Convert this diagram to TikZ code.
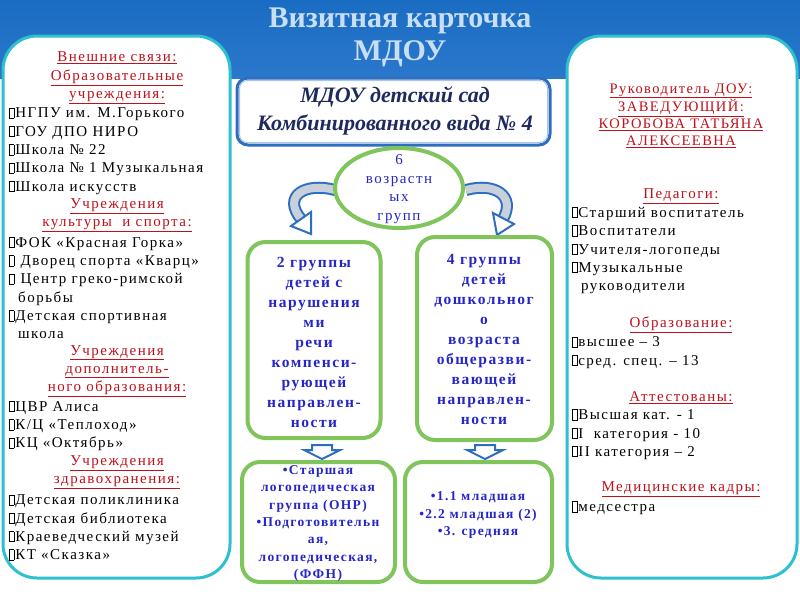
\documentclass[tikz,border=0pt]{standalone}
\usepackage{fontspec}
\setmainfont{Liberation Serif}
\newfontfamily\pf[LetterSpace=10]{Liberation Serif}
\newfontfamily\pfb[LetterSpace=10]{Liberation Serif}
\usetikzlibrary{shapes.geometric}
\definecolor{bgblue}{HTML}{1A6CC2}
\definecolor{bgblue2}{HTML}{2A78CC}
\definecolor{titlec}{HTML}{C8DEF2}
\definecolor{cyanb}{HTML}{2EC0CF}
\definecolor{redh}{HTML}{C0101A}
\definecolor{boxblue}{HTML}{2626C8}
\definecolor{greenb}{HTML}{80C45C}
\definecolor{navy}{HTML}{1E2A5E}
\definecolor{arrowblue}{HTML}{2E6EC0}
\definecolor{bandfill}{HTML}{C8D0DC}
\newcommand\bx{\kern0.5pt{\setlength\fboxsep{0pt}\setlength\fboxrule{0.8pt}\fbox{\rule{0pt}{9.5pt}\rule{4.2pt}{0pt}}}\kern0.8pt}
\tikzset{
  panel/.style={draw=cyanb, line width=3pt, fill=white, rounded corners=34pt, inner sep=0},
  lhead/.style={text=redh, align=center, font=\pf\fontsize{15}{18.3}\selectfont, inner sep=0},
  litem/.style={anchor=west, align=left, font=\pf\fontsize{15}{18.3}\selectfont, inner sep=0},
  rhead/.style={text=redh, align=center, font=\pf\fontsize{14.5}{17}\selectfont, inner sep=0},
  ritem/.style={anchor=west, align=left, font=\pf\fontsize{15}{18.4}\selectfont, inner sep=0},
  gbox/.style={draw=greenb, line width=4pt, fill=white, rounded corners=18pt, inner sep=0},
  gtext/.style={text=boxblue, align=center, font=\pfb\bfseries\fontsize{15.5}{20}\selectfont, inner sep=0},
  btext/.style={text=boxblue, align=center, font=\pfb\bfseries\fontsize{13.5}{17.3}\selectfont, inner sep=0},
  band/.style={line width=12pt, draw=arrowblue},
  bandin/.style={line width=8pt, draw=bandfill},
  ahead/.style={draw=arrowblue, line width=2pt, fill=white, line join=miter},
}
\begin{document}
\begin{tikzpicture}[x=1pt,y=-1pt]
\useasboundingbox (0,0) rectangle (800,600);
\fill[white] (0,0) rectangle (800,600);
\fill[top color=bgblue, bottom color=bgblue2] (0,0) rectangle (800,78);
% title
\node[font=\bfseries\fontsize{30}{33}\selectfont, text=titlec, align=center, inner sep=0] (title) at (400,37) {Визитная карточка\\МДОУ};
% left panel
\node[panel, minimum width=227pt, minimum height=542pt] (lp) at (116.5,307) {};
\node[lhead] (l1) at (117,78) {\underline{Внешние связи:}\\\underline{Образовательные}\\\underline{учреждения:}};
\node[litem] (l2) at (8,151) {\bx НГПУ им. М.Горького\\\bx ГОУ ДПО НИРО\\\bx Школа № 22\\\bx Школа № 1 Музыкальная\\\bx Школа искусств};
\node[lhead] (l3) at (117,215) {\underline{Учреждения}\\\underline{культуры\ \ и спорта:}};
\node[litem] (l4) at (8,288) {\bx ФОК «Красная Горка»\\\bx\ Дворец спорта «Кварц»\\\bx\ Центр греко-римской\\\hspace*{10pt}борьбы\\\bx Детская спортивная\\\hspace*{10pt}школа};
\node[lhead] (l5) at (117,371) {\underline{Учреждения}\\\underline{дополнитель-}\\\underline{ного образования:}};
\node[litem] (l6) at (8,426) {\bx ЦВР Алиса\\\bx К/Ц «Теплоход»\\\bx КЦ «Октябрь»};
\node[lhead] (l7) at (117,472) {\underline{Учреждения}\\\underline{здравохранения:}};
\node[litem] (l8) at (8,527.5) {\bx Детская поликлиника\\\bx Детская библиотека\\\bx Краеведческий музей\\\bx КТ «Сказка»};
% right panel
\node[panel, minimum width=230pt, minimum height=542pt] (rp) at (682,307) {};
\node[rhead] (r1) at (681,115.5) {\underline{Руководитель ДОУ:}\\\underline{ЗАВЕДУЮЩИЙ:}\\\underline{КОРОБОВА ТАТЬЯНА}\\\underline{АЛЕКСЕЕВНА}};
\node[lhead] (r2) at (681,196) {\underline{Педагоги:}};
\node[ritem] (r3) at (571,250.5) {\bx Старший воспитатель\\\bx Воспитатели\\\bx Учителя-логопеды\\\bx Музыкальные\\\hspace*{10pt}руководители};
\node[lhead] (r4) at (681,325) {\underline{Образование:}};
\node[ritem] (r5) at (571,352.5) {\bx высшее – 3\\\bx сред. спец. – 13};
\node[lhead] (r6) at (681,398) {\underline{Аттестованы:}};
\node[ritem] (r7) at (571,434.5) {\bx Высшая кат. - 1\\\bx I\ \ категория - 10\\\bx II категория – 2};
\node[lhead] (r8) at (681,489) {\underline{Медицинские кадры:}};
\node[ritem] (r9) at (571,508) {\bx медсестра};
% MDOU box
\node[draw=arrowblue, line width=3pt, fill=white, rounded corners=11pt, minimum width=313pt, minimum height=67pt, inner sep=0] (mdou) at (393.5,111.5) {};
\draw[draw=arrowblue!40, line width=1pt, rounded corners=8pt] ([shift={(4pt,-4pt)}]mdou.north west) rectangle ([shift={(-4pt,4pt)}]mdou.south east);
\node[text=navy, align=center, font=\bfseries\itshape\fontsize{22}{28}\selectfont, inner sep=0] (mdoutxt) at (395,111) {МДОУ детский сад\\Комбинированного вида № 4};
% curved arrows
\coordinate (la0) at (335,190);
\coordinate (la1) at (301,219);
\draw[band] (la0) .. controls (305,182) and (282,196) .. (la1);
\draw[bandin] (la0) .. controls (305,182) and (282,196) .. (la1);
\draw[ahead] (291,226) -- (311,212) -- (311,234) -- cycle;
\coordinate (ra0) at (466,190);
\coordinate (ra1) at (503,219);
\draw[band] (ra0) .. controls (495,182) and (516,196) .. (ra1);
\draw[bandin] (ra0) .. controls (495,182) and (516,196) .. (ra1);
\draw[ahead] (514,224) -- (493,213) -- (497,235) -- cycle;
% ellipse
\node[ellipse, draw=greenb, line width=4pt, fill=white, minimum width=128pt, minimum height=80pt, inner sep=0] (ell) at (399,188) {};
\node[text=boxblue, align=center, font=\pf\fontsize{15}{18.7}\selectfont, inner sep=0] (elltxt) at (399,189) {6\\возрастн\\ых\\групп};
% group boxes
\node[gbox, minimum width=133pt, minimum height=196pt] (gl) at (314,340) {};
\node[gtext] (gltxt) at (314,342) {2 группы\\детей с\\нарушения\\ми\\речи\\компенси-\\рующей\\направлен-\\ности};
\node[gbox, minimum width=135pt, minimum height=203pt] (gr) at (484.5,338.5) {};
\node[gtext] (grtxt) at (484,339) {4 группы\\детей\\дошкольног\\о\\возраста\\общеразви-\\вающей\\направлен-\\ности};
% down arrows
\draw[ahead] (312,445) -- (332,445) -- (332,450) -- (340,450) -- (322,459) -- (304,450) -- (312,450) -- cycle;
\draw[ahead] (475,445) -- (495,445) -- (495,450) -- (503,450) -- (485,459) -- (467,450) -- (475,450) -- cycle;
% bottom boxes
\node[gbox, minimum width=153pt, minimum height=120pt] (bl) at (318.5,522) {};
\node[btext] (bltxt) at (318,523.5) {•Старшая\\логопедическая\\группа (ОНР)\\•Подготовительн\\ая,\\логопедическая,\\(ФФН)};
\node[gbox, minimum width=147pt, minimum height=120pt] (br) at (478.5,522) {};
\node[btext] (brtxt) at (478,515) {•1.1 младшая\\•2.2 младшая (2)\\•3. средняя};
\end{tikzpicture}
\end{document}
